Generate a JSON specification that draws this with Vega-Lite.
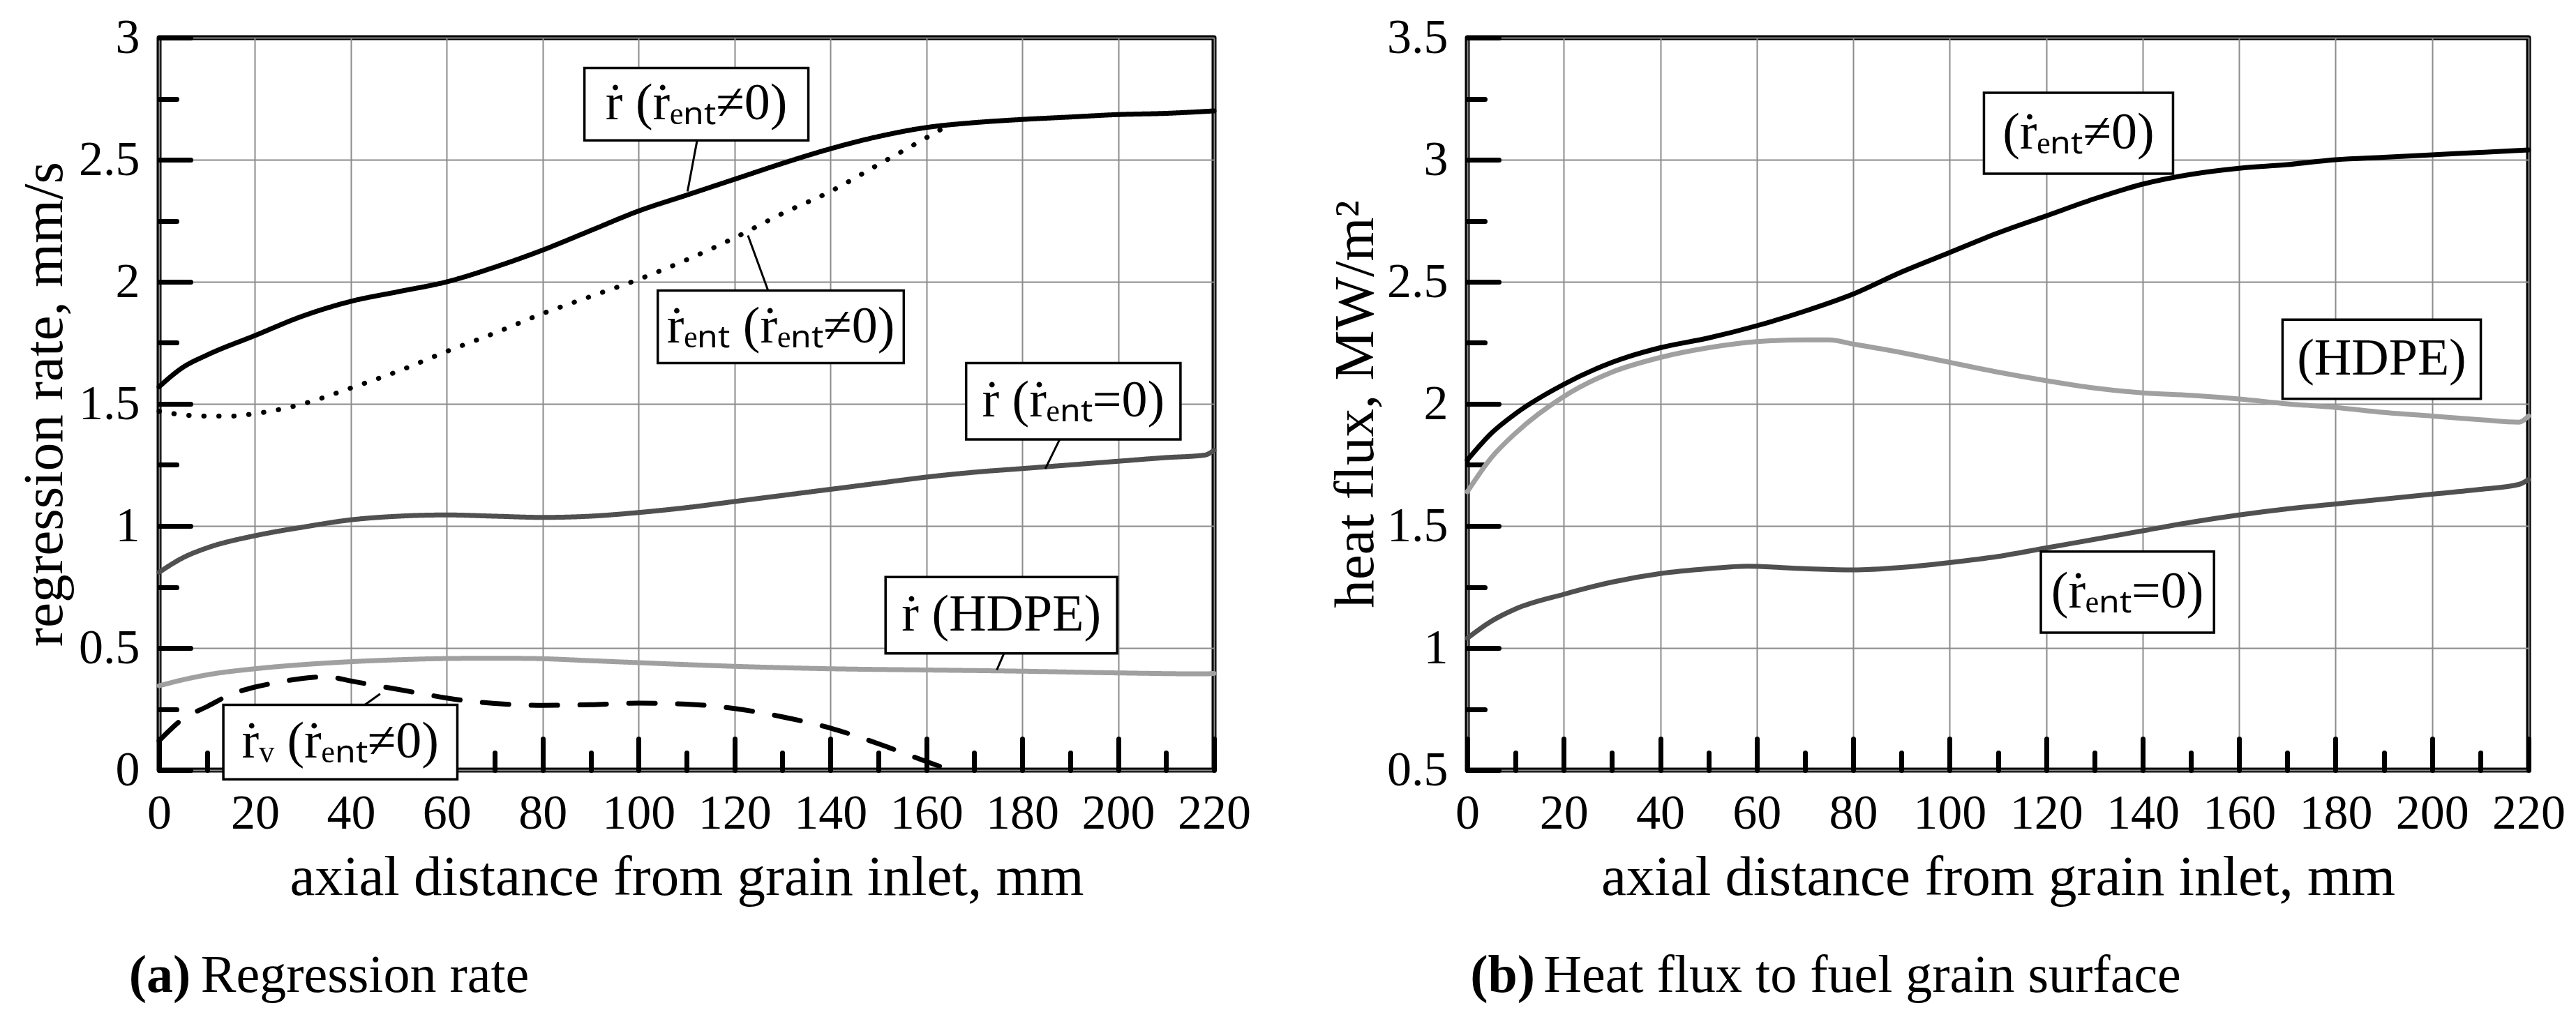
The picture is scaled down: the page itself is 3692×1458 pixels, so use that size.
{
  "$schema": "https://vega.github.io/schema/vega-lite/v6.json",
  "background": "white",
  "padding": {"left": 19, "top": 15, "right": 5, "bottom": 5},
  "spacing": 102,
  "resolve": {"scale": {"color": "independent", "strokeDash": "independent"}},
  "config": {
    "view": {"stroke": "black", "strokeWidth": 7, "strokeJoin": "round"},
    "font": "Liberation Serif",
    "axis": {
      "domain": false,
      "tickColor": "black",
      "tickWidth": 7,
      "tickCap": "round",
      "labelFont": "Liberation Serif",
      "labelFontSize": 70,
      "labelColor": "black",
      "titleFont": "Liberation Serif",
      "titleFontSize": 81,
      "titleFontWeight": "normal",
      "titleColor": "black",
      "gridColor": "#8c8c8c",
      "gridWidth": 2,
      "labelFlush": false,
      "labelOverlap": false,
      "labelPadding": 73
    },
    "text": {"font": "Liberation Serif", "color": "black"}
  },
  "datasets": {
    "regC": [
      {"x": 0, "v": 1.57, "s": "r_ne0"}, {"x": 5, "v": 1.65, "s": "r_ne0"}, {"x": 10, "v": 1.70, "s": "r_ne0"}, {"x": 20, "v": 1.78, "s": "r_ne0"}, {"x": 30, "v": 1.86, "s": "r_ne0"}, {"x": 40, "v": 1.92, "s": "r_ne0"}, {"x": 50, "v": 1.96, "s": "r_ne0"}, {"x": 60, "v": 2.00, "s": "r_ne0"}, {"x": 70, "v": 2.06, "s": "r_ne0"}, {"x": 80, "v": 2.13, "s": "r_ne0"}, {"x": 90, "v": 2.21, "s": "r_ne0"}, {"x": 100, "v": 2.29, "s": "r_ne0"}, {"x": 110, "v": 2.355, "s": "r_ne0"}, {"x": 120, "v": 2.42, "s": "r_ne0"}, {"x": 130, "v": 2.485, "s": "r_ne0"}, {"x": 140, "v": 2.545, "s": "r_ne0"}, {"x": 150, "v": 2.595, "s": "r_ne0"}, {"x": 160, "v": 2.632, "s": "r_ne0"}, {"x": 170, "v": 2.652, "s": "r_ne0"}, {"x": 180, "v": 2.665, "s": "r_ne0"}, {"x": 190, "v": 2.675, "s": "r_ne0"}, {"x": 200, "v": 2.685, "s": "r_ne0"}, {"x": 210, "v": 2.69, "s": "r_ne0"}, {"x": 220, "v": 2.70, "s": "r_ne0"},
      {"x": 0, "v": 1.47, "s": "rent"}, {"x": 5, "v": 1.455, "s": "rent"}, {"x": 10, "v": 1.45, "s": "rent"}, {"x": 15, "v": 1.45, "s": "rent"}, {"x": 20, "v": 1.46, "s": "rent"}, {"x": 30, "v": 1.50, "s": "rent"}, {"x": 40, "v": 1.565, "s": "rent"}, {"x": 50, "v": 1.635, "s": "rent"}, {"x": 60, "v": 1.715, "s": "rent"}, {"x": 70, "v": 1.79, "s": "rent"}, {"x": 80, "v": 1.87, "s": "rent"}, {"x": 90, "v": 1.94, "s": "rent"}, {"x": 100, "v": 2.01, "s": "rent"}, {"x": 110, "v": 2.09, "s": "rent"}, {"x": 120, "v": 2.18, "s": "rent"}, {"x": 130, "v": 2.28, "s": "rent"}, {"x": 140, "v": 2.37, "s": "rent"}, {"x": 150, "v": 2.48, "s": "rent"}, {"x": 160, "v": 2.59, "s": "rent"}, {"x": 164, "v": 2.635, "s": "rent"},
      {"x": 0, "v": 0.81, "s": "r_eq0"}, {"x": 5, "v": 0.87, "s": "r_eq0"}, {"x": 10, "v": 0.91, "s": "r_eq0"}, {"x": 20, "v": 0.96, "s": "r_eq0"}, {"x": 30, "v": 0.995, "s": "r_eq0"}, {"x": 40, "v": 1.025, "s": "r_eq0"}, {"x": 50, "v": 1.04, "s": "r_eq0"}, {"x": 60, "v": 1.045, "s": "r_eq0"}, {"x": 70, "v": 1.04, "s": "r_eq0"}, {"x": 80, "v": 1.035, "s": "r_eq0"}, {"x": 90, "v": 1.04, "s": "r_eq0"}, {"x": 100, "v": 1.055, "s": "r_eq0"}, {"x": 110, "v": 1.075, "s": "r_eq0"}, {"x": 120, "v": 1.10, "s": "r_eq0"}, {"x": 130, "v": 1.125, "s": "r_eq0"}, {"x": 140, "v": 1.15, "s": "r_eq0"}, {"x": 150, "v": 1.175, "s": "r_eq0"}, {"x": 160, "v": 1.20, "s": "r_eq0"}, {"x": 170, "v": 1.22, "s": "r_eq0"}, {"x": 180, "v": 1.235, "s": "r_eq0"}, {"x": 190, "v": 1.25, "s": "r_eq0"}, {"x": 200, "v": 1.265, "s": "r_eq0"}, {"x": 210, "v": 1.28, "s": "r_eq0"}, {"x": 218, "v": 1.29, "s": "r_eq0"}, {"x": 220, "v": 1.31, "s": "r_eq0"},
      {"x": 0, "v": 0.345, "s": "hdpe"}, {"x": 5, "v": 0.37, "s": "hdpe"}, {"x": 10, "v": 0.39, "s": "hdpe"}, {"x": 20, "v": 0.415, "s": "hdpe"}, {"x": 30, "v": 0.432, "s": "hdpe"}, {"x": 40, "v": 0.444, "s": "hdpe"}, {"x": 50, "v": 0.452, "s": "hdpe"}, {"x": 60, "v": 0.457, "s": "hdpe"}, {"x": 70, "v": 0.458, "s": "hdpe"}, {"x": 78, "v": 0.457, "s": "hdpe"}, {"x": 90, "v": 0.448, "s": "hdpe"}, {"x": 100, "v": 0.44, "s": "hdpe"}, {"x": 110, "v": 0.432, "s": "hdpe"}, {"x": 120, "v": 0.425, "s": "hdpe"}, {"x": 140, "v": 0.415, "s": "hdpe"}, {"x": 160, "v": 0.41, "s": "hdpe"}, {"x": 180, "v": 0.405, "s": "hdpe"}, {"x": 200, "v": 0.398, "s": "hdpe"}, {"x": 218, "v": 0.394, "s": "hdpe"}, {"x": 220, "v": 0.396, "s": "hdpe"},
      {"x": 0, "v": 0.12, "s": "rv"}, {"x": 5, "v": 0.21, "s": "rv"}, {"x": 10, "v": 0.26, "s": "rv"}, {"x": 15, "v": 0.31, "s": "rv"}, {"x": 20, "v": 0.34, "s": "rv"}, {"x": 25, "v": 0.36, "s": "rv"}, {"x": 30, "v": 0.376, "s": "rv"}, {"x": 35, "v": 0.382, "s": "rv"}, {"x": 40, "v": 0.365, "s": "rv"}, {"x": 45, "v": 0.347, "s": "rv"}, {"x": 50, "v": 0.33, "s": "rv"}, {"x": 55, "v": 0.312, "s": "rv"}, {"x": 60, "v": 0.295, "s": "rv"}, {"x": 65, "v": 0.282, "s": "rv"}, {"x": 70, "v": 0.273, "s": "rv"}, {"x": 80, "v": 0.265, "s": "rv"}, {"x": 90, "v": 0.268, "s": "rv"}, {"x": 100, "v": 0.274, "s": "rv"}, {"x": 110, "v": 0.27, "s": "rv"}, {"x": 120, "v": 0.252, "s": "rv"}, {"x": 130, "v": 0.218, "s": "rv"}, {"x": 140, "v": 0.172, "s": "rv"}, {"x": 150, "v": 0.108, "s": "rv"}, {"x": 160, "v": 0.035, "s": "rv"}, {"x": 165, "v": 0.0, "s": "rv"}
    ],
    "hfC": [
      {"x": 0, "v": 1.77, "s": "ne0"}, {"x": 5, "v": 1.88, "s": "ne0"}, {"x": 10, "v": 1.96, "s": "ne0"}, {"x": 20, "v": 2.08, "s": "ne0"}, {"x": 30, "v": 2.17, "s": "ne0"}, {"x": 40, "v": 2.23, "s": "ne0"}, {"x": 50, "v": 2.27, "s": "ne0"}, {"x": 60, "v": 2.32, "s": "ne0"}, {"x": 70, "v": 2.38, "s": "ne0"}, {"x": 80, "v": 2.45, "s": "ne0"}, {"x": 90, "v": 2.54, "s": "ne0"}, {"x": 100, "v": 2.62, "s": "ne0"}, {"x": 110, "v": 2.70, "s": "ne0"}, {"x": 120, "v": 2.77, "s": "ne0"}, {"x": 130, "v": 2.84, "s": "ne0"}, {"x": 140, "v": 2.90, "s": "ne0"}, {"x": 150, "v": 2.94, "s": "ne0"}, {"x": 160, "v": 2.965, "s": "ne0"}, {"x": 170, "v": 2.98, "s": "ne0"}, {"x": 180, "v": 3.0, "s": "ne0"}, {"x": 190, "v": 3.01, "s": "ne0"}, {"x": 200, "v": 3.02, "s": "ne0"}, {"x": 210, "v": 3.03, "s": "ne0"}, {"x": 220, "v": 3.04, "s": "ne0"},
      {"x": 0, "v": 1.64, "s": "hdpe"}, {"x": 5, "v": 1.78, "s": "hdpe"}, {"x": 10, "v": 1.88, "s": "hdpe"}, {"x": 20, "v": 2.03, "s": "hdpe"}, {"x": 30, "v": 2.13, "s": "hdpe"}, {"x": 40, "v": 2.19, "s": "hdpe"}, {"x": 50, "v": 2.23, "s": "hdpe"}, {"x": 60, "v": 2.255, "s": "hdpe"}, {"x": 70, "v": 2.262, "s": "hdpe"}, {"x": 75, "v": 2.262, "s": "hdpe"}, {"x": 80, "v": 2.245, "s": "hdpe"}, {"x": 90, "v": 2.21, "s": "hdpe"}, {"x": 100, "v": 2.17, "s": "hdpe"}, {"x": 110, "v": 2.13, "s": "hdpe"}, {"x": 120, "v": 2.095, "s": "hdpe"}, {"x": 130, "v": 2.065, "s": "hdpe"}, {"x": 140, "v": 2.045, "s": "hdpe"}, {"x": 150, "v": 2.035, "s": "hdpe"}, {"x": 160, "v": 2.02, "s": "hdpe"}, {"x": 170, "v": 2.0, "s": "hdpe"}, {"x": 180, "v": 1.985, "s": "hdpe"}, {"x": 190, "v": 1.965, "s": "hdpe"}, {"x": 200, "v": 1.95, "s": "hdpe"}, {"x": 210, "v": 1.935, "s": "hdpe"}, {"x": 218, "v": 1.925, "s": "hdpe"}, {"x": 220, "v": 1.95, "s": "hdpe"},
      {"x": 0, "v": 1.04, "s": "eq0"}, {"x": 5, "v": 1.11, "s": "eq0"}, {"x": 10, "v": 1.16, "s": "eq0"}, {"x": 20, "v": 1.22, "s": "eq0"}, {"x": 30, "v": 1.27, "s": "eq0"}, {"x": 40, "v": 1.305, "s": "eq0"}, {"x": 50, "v": 1.325, "s": "eq0"}, {"x": 58, "v": 1.335, "s": "eq0"}, {"x": 70, "v": 1.325, "s": "eq0"}, {"x": 80, "v": 1.32, "s": "eq0"}, {"x": 90, "v": 1.33, "s": "eq0"}, {"x": 100, "v": 1.35, "s": "eq0"}, {"x": 110, "v": 1.375, "s": "eq0"}, {"x": 120, "v": 1.41, "s": "eq0"}, {"x": 130, "v": 1.445, "s": "eq0"}, {"x": 140, "v": 1.48, "s": "eq0"}, {"x": 150, "v": 1.515, "s": "eq0"}, {"x": 160, "v": 1.545, "s": "eq0"}, {"x": 170, "v": 1.57, "s": "eq0"}, {"x": 180, "v": 1.59, "s": "eq0"}, {"x": 190, "v": 1.61, "s": "eq0"}, {"x": 200, "v": 1.63, "s": "eq0"}, {"x": 210, "v": 1.65, "s": "eq0"}, {"x": 218, "v": 1.67, "s": "eq0"}, {"x": 220, "v": 1.69, "s": "eq0"}
    ],
    "regB": [
      {"x": 88.7, "x2": 135.4, "v": 2.579, "v2": 2.876, "tx": 112.05, "tv": 2.7275, "label": "ṙ (ṙₑₙₜ≠0)"},
      {"x": 104, "x2": 155.3, "v": 1.667, "v2": 1.964, "tx": 129.65, "tv": 1.8155, "label": "ṙₑₙₜ (ṙₑₙₜ≠0)"},
      {"x": 168.3, "x2": 213, "v": 1.354, "v2": 1.667, "tx": 190.65, "tv": 1.5105, "label": "ṙ (ṙₑₙₜ=0)"},
      {"x": 151.5, "x2": 199.8, "v": 0.478, "v2": 0.791, "tx": 175.65, "tv": 0.6345, "label": "ṙ (HDPE)"},
      {"x": 13.4, "x2": 62.2, "v": -0.038, "v2": 0.267, "tx": 37.8, "tv": 0.1145, "label": "ṙᵥ (ṙₑₙₜ≠0)"}
    ],
    "regL": [
      {"x": 112.2, "v": 2.579, "x2": 110.2, "v2": 2.37},
      {"x": 127, "v": 1.964, "x2": 122.8, "v2": 2.19},
      {"x": 187.8, "v": 1.354, "x2": 184.8, "v2": 1.234},
      {"x": 176.2, "v": 0.478, "x2": 174.7, "v2": 0.41},
      {"x": 42.9, "v": 0.267, "x2": 46.1, "v2": 0.312}
    ],
    "hfB": [
      {"x": 107.1, "x2": 146.3, "v": 2.943, "v2": 3.274, "tx": 126.7, "tv": 3.1085, "label": "(ṙₑₙₜ≠0)"},
      {"x": 169, "x2": 210.1, "v": 2.021, "v2": 2.345, "tx": 189.55, "tv": 2.183, "label": "(HDPE)"},
      {"x": 118.9, "x2": 154.8, "v": 1.063, "v2": 1.395, "tx": 136.85, "tv": 1.229, "label": "(ṙₑₙₜ=0)"}
    ],
    "capA": [{"x": -6.3, "v": -0.909, "a": "(a)", "b": "Regression rate"}],
    "capB": [{"x": 0.6, "v": -0.409, "a": "(b)", "b": "Heat flux to fuel grain surface"}]
  },
  "hconcat": [
    {
      "width": 1512,
      "height": 1050,
      "layer": [
        {
          "data": {"name": "regC"},
          "mark": {"type": "line", "strokeWidth": 7, "strokeCap": "round", "interpolate": "monotone"},
          "encoding": {
            "x": {
              "field": "x", "type": "quantitative",
              "scale": {"domain": [0, 220], "nice": false},
              "axis": {
                "title": "axial distance from grain inlet, mm",
                "values": [0, 10, 20, 30, 40, 50, 60, 70, 80, 90, 100, 110, 120, 130, 140, 150, 160, 170, 180, 190, 200, 210, 220],
                "labelExpr": "datum.value % 20 === 0 ? format(datum.value, 'd') : ''",
                "tickSize": {"condition": {"test": "datum.value % 20 === 0", "value": -45}, "value": -25},
                "gridOpacity": {"condition": {"test": "datum.value % 20 === 0", "value": 1}, "value": 0},
                "titleY": 178,
                "titleBaseline": "alphabetic"
              }
            },
            "y": {
              "field": "v", "type": "quantitative",
              "scale": {"domain": [0, 3], "nice": false, "zero": false},
              "axis": {
                "title": "regression rate, mm/s",
                "values": [0, 0.25, 0.5, 0.75, 1, 1.25, 1.5, 1.75, 2, 2.25, 2.5, 2.75, 3],
                "labelExpr": "datum.value % 0.5 === 0 ? format(datum.value, '~g') : ''",
                "tickSize": {"condition": {"test": "datum.value % 0.5 === 0", "value": -45}, "value": -25},
                "gridOpacity": {"condition": {"test": "datum.value % 0.5 === 0", "value": 1}, "value": 0},
                "titleX": -140,
                "titleY": 525,
                "titleAngle": 270,
                "titleAlign": "center",
                "titleBaseline": "alphabetic"
              }
            },
            "color": {"field": "s", "type": "nominal", "legend": null,
              "scale": {"domain": ["r_ne0", "rent", "r_eq0", "hdpe", "rv"], "range": ["#000000", "#000000", "#505050", "#a0a0a0", "#000000"]}},
            "strokeDash": {"field": "s", "type": "nominal", "legend": null,
              "scale": {"domain": ["r_ne0", "rent", "r_eq0", "hdpe", "rv"], "range": [[1, 0], [0.5, 21], [1, 0], [1, 0], [38, 32]]}}
          }
        },
        {
          "data": {"name": "regL"},
          "mark": {"type": "rule", "color": "black", "strokeWidth": 3},
          "encoding": {
            "x": {"field": "x", "type": "quantitative"},
            "y": {"field": "v", "type": "quantitative"},
            "x2": {"field": "x2"},
            "y2": {"field": "v2"}
          }
        },
        {
          "data": {"name": "regB"},
          "mark": {"type": "rect", "fill": "white", "stroke": "black", "strokeWidth": 3.5},
          "encoding": {
            "x": {"field": "x", "type": "quantitative"},
            "x2": {"field": "x2"},
            "y": {"field": "v", "type": "quantitative"},
            "y2": {"field": "v2"}
          }
        },
        {
          "data": {"name": "regB"},
          "mark": {"type": "text", "fontSize": 74, "align": "center", "baseline": "middle"},
          "encoding": {
            "x": {"field": "tx", "type": "quantitative"},
            "y": {"field": "tv", "type": "quantitative"},
            "text": {"field": "label"}
          }
        },
        {
          "data": {"name": "capA"},
          "mark": {"type": "text", "fontSize": 76, "fontWeight": "bold", "align": "left", "baseline": "alphabetic"},
          "encoding": {
            "x": {"field": "x", "type": "quantitative"},
            "y": {"field": "v", "type": "quantitative"},
            "text": {"field": "a"}
          }
        },
        {
          "data": {"name": "capA"},
          "mark": {"type": "text", "fontSize": 76, "align": "left", "baseline": "alphabetic", "dx": 103},
          "encoding": {
            "x": {"field": "x", "type": "quantitative"},
            "y": {"field": "v", "type": "quantitative"},
            "text": {"field": "b"}
          }
        }
      ]
    },
    {
      "width": 1521,
      "height": 1050,
      "layer": [
        {
          "data": {"name": "hfC"},
          "mark": {"type": "line", "strokeWidth": 7, "strokeCap": "round", "interpolate": "monotone"},
          "encoding": {
            "x": {
              "field": "x", "type": "quantitative",
              "scale": {"domain": [0, 220], "nice": false},
              "axis": {
                "title": "axial distance from grain inlet, mm",
                "values": [0, 10, 20, 30, 40, 50, 60, 70, 80, 90, 100, 110, 120, 130, 140, 150, 160, 170, 180, 190, 200, 210, 220],
                "labelExpr": "datum.value % 20 === 0 ? format(datum.value, 'd') : ''",
                "tickSize": {"condition": {"test": "datum.value % 20 === 0", "value": -45}, "value": -25},
                "gridOpacity": {"condition": {"test": "datum.value % 20 === 0", "value": 1}, "value": 0},
                "titleY": 178,
                "titleBaseline": "alphabetic"
              }
            },
            "y": {
              "field": "v", "type": "quantitative",
              "scale": {"domain": [0.5, 3.5], "nice": false, "zero": false},
              "axis": {
                "title": "heat flux, MW/m²",
                "values": [0.5, 0.75, 1, 1.25, 1.5, 1.75, 2, 2.25, 2.5, 2.75, 3, 3.25, 3.5],
                "labelExpr": "datum.value % 0.5 === 0 ? format(datum.value, '~g') : ''",
                "tickSize": {"condition": {"test": "datum.value % 0.5 === 0", "value": -45}, "value": -25},
                "gridOpacity": {"condition": {"test": "datum.value % 0.5 === 0", "value": 1}, "value": 0},
                "titleX": -136,
                "titleY": 525,
                "titleAngle": 270,
                "titleAlign": "center",
                "titleBaseline": "alphabetic"
              }
            },
            "color": {"field": "s", "type": "nominal", "legend": null,
              "scale": {"domain": ["ne0", "hdpe", "eq0"], "range": ["#000000", "#a0a0a0", "#505050"]}}
          }
        },
        {
          "data": {"name": "hfB"},
          "mark": {"type": "rect", "fill": "white", "stroke": "black", "strokeWidth": 3.5},
          "encoding": {
            "x": {"field": "x", "type": "quantitative"},
            "x2": {"field": "x2"},
            "y": {"field": "v", "type": "quantitative"},
            "y2": {"field": "v2"}
          }
        },
        {
          "data": {"name": "hfB"},
          "mark": {"type": "text", "fontSize": 74, "align": "center", "baseline": "middle"},
          "encoding": {
            "x": {"field": "tx", "type": "quantitative"},
            "y": {"field": "tv", "type": "quantitative"},
            "text": {"field": "label"}
          }
        },
        {
          "data": {"name": "capB"},
          "mark": {"type": "text", "fontSize": 76, "fontWeight": "bold", "align": "left", "baseline": "alphabetic"},
          "encoding": {
            "x": {"field": "x", "type": "quantitative"},
            "y": {"field": "v", "type": "quantitative"},
            "text": {"field": "a"}
          }
        },
        {
          "data": {"name": "capB"},
          "mark": {"type": "text", "fontSize": 76, "align": "left", "baseline": "alphabetic", "dx": 105},
          "encoding": {
            "x": {"field": "x", "type": "quantitative"},
            "y": {"field": "v", "type": "quantitative"},
            "text": {"field": "b"}
          }
        }
      ]
    }
  ]
}
